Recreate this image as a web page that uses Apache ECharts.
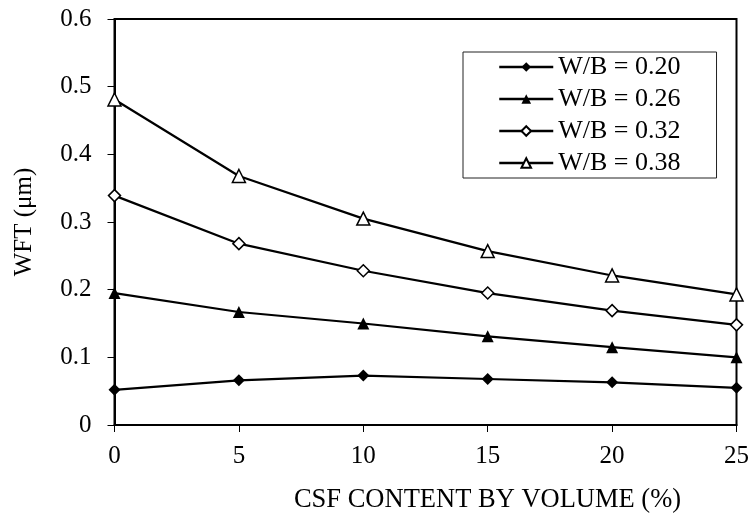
<!DOCTYPE html>
<html>
<head>
<meta charset="utf-8">
<script src="https://cdn.jsdelivr.net/npm/echarts@6/dist/echarts.min.js"></script>
<style>html,body{margin:0;padding:0;background:#fff}#c{width:752px;height:519px}</style>
</head>
<body>
<div id="c"></div>
<script>
var csfContent = [0, 5, 10, 15, 20, 25];
var wb020 = [0.052, 0.066, 0.073, 0.068, 0.063, 0.055];
var wb026 = [0.195, 0.167, 0.150, 0.131, 0.115, 0.100];
var wb032 = [0.339, 0.268, 0.228, 0.195, 0.169, 0.148];
var wb038 = [0.481, 0.368, 0.305, 0.257, 0.221, 0.193];
var seriesNames = ['W/B = 0.20', 'W/B = 0.26', 'W/B = 0.32', 'W/B = 0.38'];
var xTitle = 'CSF CONTENT BY VOLUME (%)';
var yTitle = 'WFT (\u03bcm)';

var FONT = '"Liberation Serif", "Times New Roman", serif';
function pairs(arr) { return csfContent.map(function (x, i) { return [x, arr[i]]; }); }
function mk(name, data, symbol, size, filled) {
  return {
    name: name, type: 'line', data: pairs(data),
    symbol: symbol, symbolSize: size,
    lineStyle: { color: '#000', width: 2.2 },
    itemStyle: { color: filled ? '#000' : '#fff', borderColor: '#000', borderWidth: filled ? 0 : 1.5 },
    emphasis: { disabled: true },
    z: 3
  };
}
var chart = echarts.init(document.getElementById('c'), null, { renderer: 'canvas' });
chart.setOption({
  animation: false,
  backgroundColor: '#fff',
  grid: { left: 114.5, right: 13, top: 19, bottom: 93, show: true, borderColor: '#000', borderWidth: 2, backgroundColor: 'transparent' },
  legend: {
    orient: 'vertical', left: 463, top: 52,
    padding: [2, 36, 2, 35],
    borderColor: '#222', borderWidth: 1,
    itemWidth: 54, itemHeight: 12, itemGap: 6,
    lineStyle: { width: 2.5, color: '#000' },
    textStyle: { fontFamily: FONT, fontSize: 26, color: '#000', lineHeight: 26 },
    data: seriesNames
  },
  xAxis: {
    type: 'value', min: 0, max: 25, interval: 5,
    name: xTitle, nameLocation: 'middle', nameGap: 62,
    nameTextStyle: { fontFamily: FONT, fontSize: 26.5, color: '#000', padding: [0, 0, 0, 124] },
    axisLine: { lineStyle: { color: '#000', width: 2 } },
    axisTick: { length: 7, lineStyle: { color: '#000', width: 1 } },
    axisLabel: { fontFamily: FONT, fontSize: 25, color: '#000', margin: 19 },
    splitLine: { show: false }
  },
  yAxis: {
    type: 'value', min: 0, max: 0.6, interval: 0.1,
    name: yTitle, nameLocation: 'middle', nameGap: 78, nameRotate: 90,
    nameTextStyle: { fontFamily: FONT, fontSize: 25, color: '#000' },
    axisLine: { lineStyle: { color: '#000', width: 2 } },
    axisTick: { length: 7, lineStyle: { color: '#000', width: 1 } },
    axisLabel: { fontFamily: FONT, fontSize: 25, color: '#000', margin: 23,
      formatter: function (v) { return v === 0 ? '0' : v.toFixed(1); } },
    splitLine: { show: false }
  },
  series: [
    mk(seriesNames[0], wb020, 'diamond', 12, true),
    mk(seriesNames[1], wb026, 'triangle', 12, true),
    mk(seriesNames[2], wb032, 'diamond', 12, false),
    mk(seriesNames[3], wb038, 'triangle', 13, false)
  ]
});
</script>
</body>
</html>
